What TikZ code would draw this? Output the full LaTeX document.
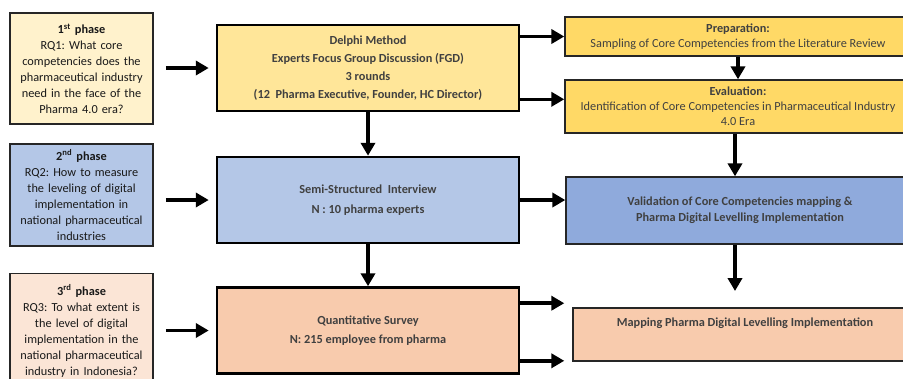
\documentclass[tikz,border=0pt]{standalone}
\usepackage{fontspec}
\setmainfont{Carlito}
\usetikzlibrary{arrows.meta}

\definecolor{phaseA}{HTML}{FFF2CC}
\definecolor{phaseB}{HTML}{B4C7E7}
\definecolor{phaseC}{HTML}{FBE5D6}
\definecolor{methA}{HTML}{FFE699}
\definecolor{methC}{HTML}{F8CBAD}
\definecolor{stageA}{HTML}{FFD966}
\definecolor{stageB}{HTML}{8FAADC}
\definecolor{inkgray}{HTML}{404040}

\begin{document}
\frenchspacing
\begin{tikzpicture}[x=0.03cm, y=-0.03cm,
  phase/.style={draw=black!85, line width=1.5pt, align=center, inner sep=0pt,
    text width=4.1cm, minimum width=4.29cm, text=black!90,
    font=\fontsize{10.5}{13.6}\selectfont},
  method/.style={draw=black, line width=2.2pt, align=center, inner sep=0pt,
    minimum width=9.06cm, minimum height=2.58cm, text=inkgray,
    font=\bfseries\fontsize{10.5}{15.3}\selectfont},
  stage/.style={draw=black!85, line width=1.2pt, align=center, inner sep=0pt,
    text=inkgray, font=\fontsize{10.5}{12.8}\selectfont},
  arr/.style={line width=3pt, -{Triangle[length=11pt,width=12pt]}}]
\useasboundingbox (0,0) rectangle (903,378);
% left column
\node [phase, fill=phaseA, minimum height=3.33cm] (rq1) at (81.5,68.5)
  {\textbf{1\textsuperscript{st} phase}\\RQ1: What core\\competencies does the\\pharmaceutical industry\\need in the face of the\\Pharma 4.0 era?};
\node [phase, fill=phaseB, minimum height=3.06cm] (rq2) at (81.5,195)
  {\textbf{2\textsuperscript{nd} phase}\\RQ2: How to measure\\the leveling of digital\\implementation in\\national pharmaceutical\\industries};
\node [phase, fill=phaseC, minimum height=3.45cm] (rq3) at (81.5,331)
  {\textbf{3\textsuperscript{rd} phase}\\RQ3: To what extent is\\the level of digital\\implementation in the\\national pharmaceutical\\industry in Indonesia?};
% middle column
\node [method, fill=methA] (delphi) at (368,68)
  {Delphi Method\\Experts Focus Group Discussion (FGD)\\3 rounds\\(12~ Pharma Executive, Founder, HC Director)};
\node [method, fill=phaseB, font=\bfseries\fontsize{10.5}{17}\selectfont] (interview) at (368,200)
  {Semi-Structured~ Interview\\N : 10 pharma experts};
\node [method, fill=methC, font=\bfseries\fontsize{10.5}{16}\selectfont] (survey) at (368,330.5)
  {Quantitative Survey\\N: 215 employee from pharma};
% right column
\node [stage, fill=stageA, minimum width=10.38cm, minimum height=1.17cm] (prep) at (738,36.5)
  {\textbf{Preparation:}\\Sampling of Core Competencies from the Literature Review};
\node [stage, fill=stageA, minimum width=10.38cm, minimum height=1.59cm] (eval) at (738,106.5)
  {\textbf{Evaluation:}\\Identification of Core Competencies in Pharmaceutical Industry\\4.0 Era};
\node [stage, fill=stageB, minimum width=10.44cm, minimum height=2.01cm, font=\bfseries\fontsize{10.5}{14}\selectfont] (valid) at (740,210.5)
  {Validation of Core Competencies mapping \&\\Pharma Digital Levelling Implementation};
\node [stage, fill=methC, minimum width=10.32cm, minimum height=1.59cm,
  label={[anchor=north, text=inkgray, font=\bfseries\fontsize{10.5}{12.8}\selectfont, yshift=-0.2cm]north:Mapping Pharma Digital Levelling Implementation}] (mapping) at (745,334.5) {};
\coordinate (validend) at (735,291);
% arrows
\draw [arr, shorten <=0.36cm, shorten >=0.21cm] (rq1.east |- delphi.west) -- (delphi.west);
\draw [arr, shorten <=0.36cm, shorten >=0.21cm] (rq2.east |- interview.west) -- (interview.west);
\draw [arr, shorten <=0.36cm, shorten >=0.21cm] (rq3.east |- survey.west) -- (survey.west);
\draw [arr] (delphi.east |- prep.west) -- (prep.west);
\draw [arr] ([yshift=0.39cm]delphi.south east) -- ([yshift=0.39cm]delphi.south east -| eval.west);
\draw [arr] (prep.south) -- (prep.south |- eval.north);
\draw [arr] (delphi.south) -- (interview.north);
\draw [arr] (interview.east) -- (interview.east -| valid.west);
\draw [arr] (eval.south -| validend) -- (valid.north -| validend);
\draw [arr] (interview.south) -- (survey.north);
\draw [arr] (valid.south -| validend) -- (validend);
\draw [arr, shorten >=0.24cm] ([yshift=-0.51cm]survey.north east) -- ([yshift=-0.51cm]survey.north east -| mapping.west);
\draw [arr, shorten >=0.24cm] ([yshift=0.42cm]survey.south east) -- ([yshift=0.42cm]survey.south east -| mapping.west);
\end{tikzpicture}
\end{document}
